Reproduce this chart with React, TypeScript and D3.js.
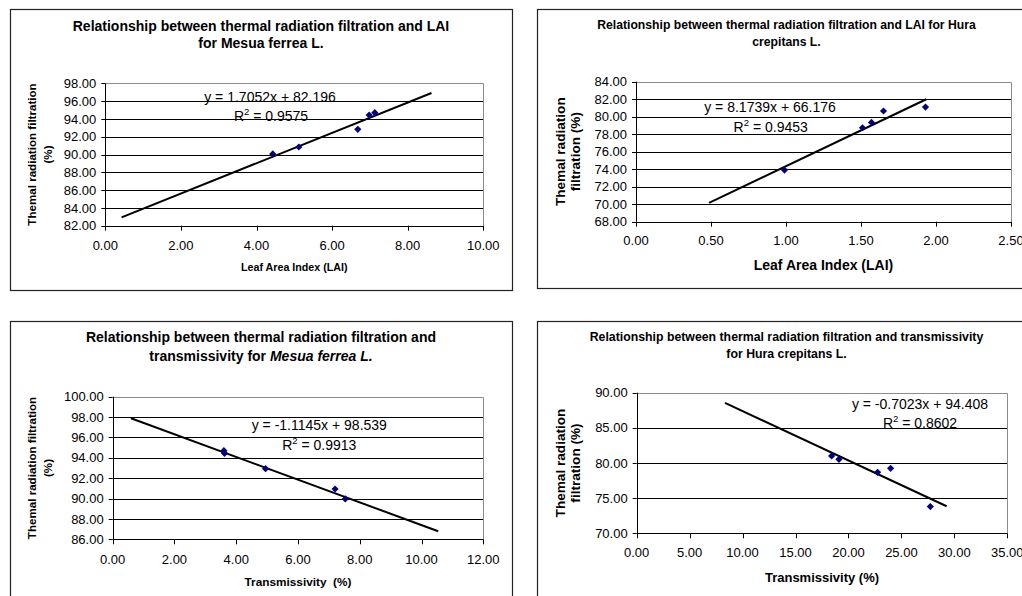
import React from "react";
import * as d3 from "d3";

// ---------- data ----------
const mesuaLAI = [4.43, 5.12, 6.68, 6.98, 7.13];
const mesuaFiltrationLAI = [90.06, 90.84, 92.83, 94.44, 94.7];
const huraLAI = [0.99, 1.51, 1.57, 1.65, 1.93];
const huraFiltrationLAI = [73.9, 78.74, 79.35, 80.65, 81.1];
const mesuaTrans = [3.6, 3.62, 4.95, 7.2, 7.53];
const mesuaFiltrationTrans = [94.7, 94.44, 92.93, 90.94, 89.96];
const huraTrans = [18.41, 19.1, 22.75, 23.98, 27.73];
const huraFiltrationTrans = [81.0, 80.52, 78.67, 79.24, 73.8];

// trendline: [slope, intercept], x extent
const trendSlopes = [1.7052, 8.1739, -1.1145, -0.7023];
const trendIntercepts = [82.196, 66.176, 98.539, 94.408];
const trendFrom = [0.43, 0.487, 0.59, 8.34];
const trendTo = [8.63, 1.935, 10.54, 29.27];
const rSquared = ["0.9575", "0.9453", "0.9913", "0.8602"];

// axis ticks
const xTicks1 = [0, 2, 4, 6, 8, 10];
const yTicks1 = [82, 84, 86, 88, 90, 92, 94, 96, 98];
const xTicks2 = [0, 0.5, 1, 1.5, 2, 2.5];
const yTicks2 = [68, 70, 72, 74, 76, 78, 80, 82, 84];
const xTicks3 = [0, 2, 4, 6, 8, 10, 12];
const yTicks3 = [86, 88, 90, 92, 94, 96, 98, 100];
const xTicks4 = [0, 5, 10, 15, 20, 25, 30, 35];
const yTicks4 = [70, 75, 80, 85, 90];

const FONT = "'Liberation Sans', Arial, Helvetica, sans-serif";
const fmt = d3.format(".2f");

type TitlePart = { text: string; italic?: boolean };

type PanelCfg = {
  frame: [number, number, number, number];
  plot: [number, number, number, number]; // l,t,r,b
  xs: number[];
  ys: number[];
  xTicks: number[];
  yTicks: number[];
  trend: number;
  title: TitlePart[][];
  titleY: [number, number];
  titleSize: number;
  xTitle: string;
  xTitleY: number;
  xTitleSize: number;
  yTitleSize: number;
  yTitle: string[];
  yTitleX: number[];
  xTickY: number;
  eqPos: [number, number];
  r2Pos: [number, number];
};

const panels: PanelCfg[] = [
  {
    frame: [10, 9, 502, 281],
    plot: [105.3, 83.3, 483.3, 225.7],
    xs: mesuaLAI,
    ys: mesuaFiltrationLAI,
    xTicks: xTicks1,
    yTicks: yTicks1,
    trend: 0,
    title: [
      [{ text: "Relationship between thermal radiation filtration and LAI" }],
      [{ text: "for Mesua ferrea L." }],
    ],
    titleY: [30.5, 48],
    titleSize: 14,
    xTitle: "Leaf Area Index (LAI)",
    xTitleY: 271,
    xTitleSize: 10.7,
    yTitleSize: 11.6,
    yTitle: ["Themal radiation filtration", "(%)"],
    yTitleX: [35.5, 51.5],
    xTickY: 249.5,
    eqPos: [270, 102],
    r2Pos: [271, 121],
  },
  {
    frame: [537, 9, 499, 279],
    plot: [636, 81.7, 1011, 221.7],
    xs: huraLAI,
    ys: huraFiltrationLAI,
    xTicks: xTicks2,
    yTicks: yTicks2,
    trend: 1,
    title: [
      [{ text: "Relationship between thermal radiation filtration and LAI for Hura" }],
      [{ text: "crepitans L." }],
    ],
    titleY: [29.2, 45.9],
    titleSize: 12.2,
    xTitle: "Leaf Area Index (LAI)",
    xTitleY: 270,
    xTitleSize: 14,
    yTitleSize: 13.6,
    yTitle: ["Themal radiation", "filtration (%)"],
    yTitleX: [565, 580],
    xTickY: 244.5,
    eqPos: [770, 111.7],
    r2Pos: [770.7, 131.7],
  },
  {
    frame: [10, 321, 502, 290],
    plot: [112.7, 396.7, 483.3, 539.3],
    xs: mesuaTrans,
    ys: mesuaFiltrationTrans,
    xTicks: xTicks3,
    yTicks: yTicks3,
    trend: 2,
    title: [
      [{ text: "Relationship between thermal radiation filtration and" }],
      [{ text: "transmissivity for " }, { text: "Mesua ferrea L.", italic: true }],
    ],
    titleY: [342, 360.5],
    titleSize: 14,
    xTitle: "Transmissivity  (%)",
    xTitleY: 586,
    xTitleSize: 11.8,
    yTitleSize: 11.6,
    yTitle: ["Themal radiation filtration", "(%)"],
    yTitleX: [35.5, 51.5],
    xTickY: 563.5,
    eqPos: [319.3, 430],
    r2Pos: [319.3, 450],
  },
  {
    frame: [537, 321, 499, 290],
    plot: [636.7, 392.7, 1007.3, 533.3],
    xs: huraTrans,
    ys: huraFiltrationTrans,
    xTicks: xTicks4,
    yTicks: yTicks4,
    trend: 3,
    title: [
      [{ text: "Relationship between thermal radiation filtration and transmissivity" }],
      [{ text: "for Hura crepitans L." }],
    ],
    titleY: [340.9, 357.5],
    titleSize: 12.3,
    xTitle: "Transmissivity (%)",
    xTitleY: 581.5,
    xTitleSize: 13,
    yTitleSize: 13.6,
    yTitle: ["Themal radiation", "filtration (%)"],
    yTitleX: [565, 580],
    xTickY: 557.2,
    eqPos: [920, 409],
    r2Pos: [920, 427.7],
  },
];

function Panel({ cfg }: { cfg: PanelCfg }) {
  const [l, t, r, b] = cfg.plot;
  const x = d3
    .scaleLinear()
    .domain([cfg.xTicks[0], cfg.xTicks[cfg.xTicks.length - 1]])
    .range([l, r]);
  const y = d3
    .scaleLinear()
    .domain([cfg.yTicks[0], cfg.yTicks[cfg.yTicks.length - 1]])
    .range([b, t]);
  const [fx, fy, fw, fh] = cfg.frame;
  const cx = fx + fw / 2;
  const slope = trendSlopes[cfg.trend];
  const icpt = trendIntercepts[cfg.trend];
  const tx = [trendFrom[cfg.trend], trendTo[cfg.trend]];
  const line = d3
    .line<number>()
    .x((d) => x(d))
    .y((d) => y(slope * d + icpt));
  const eqText = `y = ${slope < 0 ? "-" : ""}${Math.abs(slope)}x + ${icpt}`;
  const yMid = (t + b) / 2;
  const diamond = "M0,-3.6L3.6,0L0,3.6L-3.6,0Z";

  return (
    <g fontFamily={FONT}>
      <rect x={fx + 0.5} y={fy + 0.5} width={fw} height={fh} fill="#fff" stroke="#222" strokeWidth={1.2} />
      {cfg.title.map((parts, i) => (
        <text
          key={i}
          x={cx}
          y={cfg.titleY[i]}
          textAnchor="middle"
          fontWeight="bold"
          fontSize={cfg.titleSize}
          fill="#000"
          style={{ whiteSpace: "pre" }}
        >
          {parts.map((p, j) => (
            <tspan key={j} fontStyle={p.italic ? "italic" : "normal"}>
              {p.text}
            </tspan>
          ))}
        </text>
      ))}
      {/* gridlines */}
      {cfg.yTicks.slice(1, -1).map((v) => (
        <line key={v} x1={l} x2={r} y1={Math.round(y(v)) + 0.5} y2={Math.round(y(v)) + 0.5} stroke="#000" strokeWidth={1} />
      ))}
      {/* plot border */}
      <path
        d={`M${l},${Math.round(t) + 0.5}H${Math.round(r) + 0.5}V${b}`}
        fill="none"
        stroke="#8c8c8c"
        strokeWidth={1}
      />
      {/* axes */}
      <line x1={Math.round(l) + 0.5} x2={Math.round(l) + 0.5} y1={t} y2={b} stroke="#000" />
      <line x1={l} x2={r} y1={Math.round(b) + 0.5} y2={Math.round(b) + 0.5} stroke="#000" />
      {cfg.yTicks.map((v) => (
        <g key={"yt" + v}>
          <line x1={l - 4} x2={l} y1={Math.round(y(v)) + 0.5} y2={Math.round(y(v)) + 0.5} stroke="#000" />
          <text x={l - 9} y={y(v) + 4.6} textAnchor="end" fontSize={13} fill="#000">
            {fmt(v)}
          </text>
        </g>
      ))}
      {cfg.xTicks.map((v) => (
        <g key={"xt" + v}>
          <line x1={Math.round(x(v)) + 0.5} x2={Math.round(x(v)) + 0.5} y1={b} y2={b + 5} stroke="#000" />
          <text x={x(v)} y={cfg.xTickY} textAnchor="middle" fontSize={13} fill="#000">
            {fmt(v)}
          </text>
        </g>
      ))}
      <text
        x={(l + r) / 2}
        y={cfg.xTitleY}
        textAnchor="middle"
        fontWeight="bold"
        fontSize={cfg.xTitleSize}
        style={{ whiteSpace: "pre" }}
      >
        {cfg.xTitle}
      </text>
      {cfg.yTitle.map((s, i) => (
        <text
          key={i}
          transform={`translate(${cfg.yTitleX[i]},${yMid}) rotate(-90)`}
          textAnchor="middle"
          fontWeight="bold"
          fontSize={cfg.yTitleSize}
        >
          {s}
        </text>
      ))}
      {/* trendline */}
      <path d={line(tx) || ""} fill="none" stroke="#000" strokeWidth={2} />
      {/* points */}
      {cfg.xs.map((v, i) => (
        <path key={i} d={diamond} transform={`translate(${x(v)},${y(cfg.ys[i])})`} fill="#000080" />
      ))}
      {/* equation */}
      <text x={cfg.eqPos[0]} y={cfg.eqPos[1]} textAnchor="middle" fontSize={14} fill="#000">
        {eqText}
      </text>
      <text x={cfg.r2Pos[0]} y={cfg.r2Pos[1]} textAnchor="middle" fontSize={14} fill="#000">
        R<tspan fontSize={9.5} dy={-6}>2</tspan>
        <tspan dy={6}>{` = ${rSquared[cfg.trend]}`}</tspan>
      </text>
    </g>
  );
}

export default function App() {
  return (
    <svg
      width={1022}
      height={596}
      style={{ position: "absolute", left: 0, top: 0, background: "#fff" }}
    >
      <rect width={1022} height={596} fill="#fff" />
      {panels.map((p, i) => (
        <Panel key={i} cfg={p} />
      ))}
    </svg>
  );
}
